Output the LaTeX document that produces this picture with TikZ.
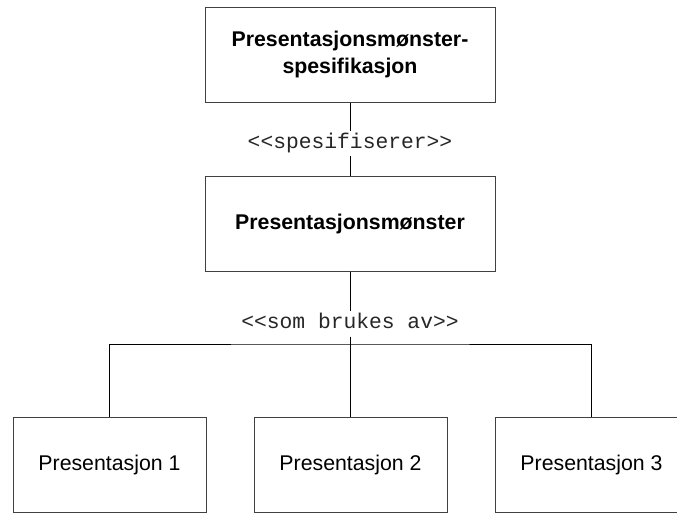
\documentclass[tikz,border=0pt]{standalone}
\usepackage{fontspec}
\setmainfont{Liberation Sans}
\newfontfamily\labelmono{Liberation Mono}
\begin{document}
\begin{tikzpicture}[x=1pt,y=-1pt,
  umlbox/.style={draw=black!75,line width=1pt,fill=white,inner sep=0pt,
    align=center,font=\fontsize{21.3}{27}\selectfont},
  widebox/.style={umlbox,minimum width=290pt,minimum height=95pt,
    font=\fontsize{21.3}{27}\selectfont\bfseries},
  leafbox/.style={umlbox,minimum width=193pt,minimum height=95pt},
  stereo/.style={inner xsep=2pt,inner ysep=5pt,text height=12pt,
    text depth=3pt,text=black!85,font=\labelmono\fontsize{21.3}{24}\selectfont},
  link/.style={draw=black,line width=1pt}]
\useasboundingbox (0,0) rectangle (677,512);
\clip (0,0) rectangle (677,512);

% specification and pattern
\node[widebox] (spec) at (350,54.5) {Presentasjonsmønster-\\spesifikasjon};
\node[widebox] (pattern) at (350,223.5) {Presentasjonsmønster};

% concrete presentations
\node[leafbox] (p1) at (109.5,464.5) {Presentasjon 1};
\node[leafbox] (p2) at (350.5,464.5) {Presentasjon 2};
\node[leafbox] (p3) at (591.5,464.5) {Presentasjon 3};

% stereotype labels
\node[stereo] (lspec) at (350,143.5) {<<spesifiserer>>};
\node[stereo] (luse) at (350,324) {<<som brukes av>>};

% connectors, broken around the stereotype labels
\draw[link] (spec.south) -- (lspec.north);
\draw[link] (lspec.south) -- (pattern.north);
\draw[link] (pattern.south) -- (pattern.south |- luse.north);
\draw[link] (pattern.south |- luse.south) -- (pattern.south |- p2.north);
\coordinate (bus) at (350,344);
\draw[link] (p1.north) |- (bus) -| (p3.north);
\end{tikzpicture}
\end{document}
